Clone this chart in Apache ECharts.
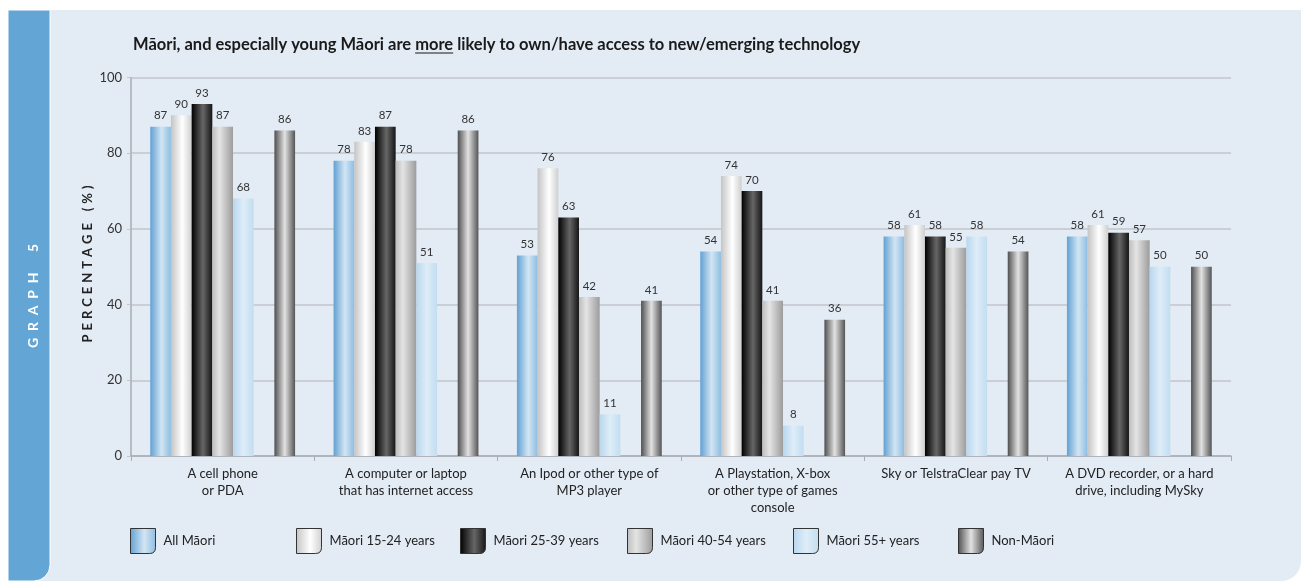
<!DOCTYPE html>
<html>
<head>
<meta charset="utf-8">
<script src="https://cdn.jsdelivr.net/npm/echarts@6/dist/echarts.min.js"></script>
<style>html,body{margin:0;padding:0;background:#fff;}#c{width:1303px;height:581px;}</style>
</head>
<body>
<div id="c"></div>
<script>
const categories = [
  'A cell phone\nor PDA',
  'A computer or laptop\nthat has internet access',
  'An Ipod or other type of\nMP3 player',
  'A Playstation, X-box\nor other type of games\nconsole',
  'Sky or TelstraClear pay TV',
  'A DVD recorder, or a hard\ndrive, including MySky'
];
const seriesNames = ['All Māori','Māori 15-24 years','Māori 25-39 years','Māori 40-54 years','Māori 55+ years','Non-Māori'];
const allMaori   = [87, 78, 53, 54, 58, 58];
const maori1524  = [90, 83, 76, 74, 61, 61];
const maori2539  = [93, 87, 63, 70, 58, 59];
const maori4054  = [87, 78, 42, 41, 55, 57];
const maori55    = [68, 51, 11, 8, 58, 50];
const nonMaori   = [86, 86, 41, 36, 54, 50];
const yTicks = [0, 20, 40, 60, 80, 100];
const titleText = 'Māori, and especially young Māori are more likely to own/have access to new/emerging technology';
const yAxisName = 'PERCENTAGE (%)';
const sideLabel = 'GRAPH 5';

const FONT = 'Lato, "Open Sans", sans-serif';
function grad(stops){
  return new echarts.graphic.LinearGradient(0,0,1,0, stops.map(s=>({offset:s[0],color:s[1]})));
}
const colors = [
  grad([[0,'#62a1d3'],[0.55,'#d2e5f3'],[1,'#8dbde2']]),
  grad([[0,'#c4c4c4'],[0.55,'#ffffff'],[1,'#cfcfcf']]),
  grad([[0,'#000000'],[0.55,'#666666'],[1,'#151515']]),
  grad([[0,'#bdbdbd'],[0.35,'#e4e4e4'],[1,'#9c9c9c']]),
  grad([[0,'#b9d7ee'],[0.5,'#deedf8'],[1,'#c2ddf1']]),
  grad([[0,'#4f4f4f'],[0.5,'#e2e2e2'],[1,'#555555']])
];
const dataArr = [allMaori, maori1524, maori2539, maori4054, maori55, nonMaori];

const series = [];
for (let i = 0; i < 6; i++) {
  if (i === 5) {
    series.push({ name: '_gap', type: 'bar', data: categories.map(()=>'-'), silent: true, barGap: '0%', barCategoryGap: '21%' });
  }
  series.push({
    name: seriesNames[i], type: 'bar', data: dataArr[i],
    barGap: '0%', barCategoryGap: '21%',
    itemStyle: { color: colors[i] },
    label: { show: true, position: 'top', distance: 5, fontSize: 11.5, color: '#333', fontFamily: FONT }
  });
}

const legendX = [130, 296, 460, 627, 793, 958];
const legends = seriesNames.map((n, i) => ({
  left: legendX[i], top: 528, orient: 'horizontal', data: [n], padding: 0,
  itemWidth: 25, itemHeight: 25, itemGap: 8,
  icon: 'path://M0,0 L25,0 L25,19 Q25,25 19,25 L0,25 Z',
  itemStyle: { borderColor: '#333', borderWidth: 1 },
  textStyle: { fontSize: 13, color: '#222', fontFamily: FONT, padding: [0, 0, 0, 3] },
  selectedMode: false
}));

const cv = document.createElement('canvas').getContext('2d');
function spaced(str, font, target){
  cv.font = font;
  const words = str.split(' ');
  let best = null, bestErr = 1e9;
  const seps = [' ', ' \u200A', ' \u2009', '  ', '  \u200A', '  \u2009', '   ', '\u2002', '\u2002\u200A', '\u2002\u2009', '\u2003'];
  for (const s of seps) {
    const t = words.map(w => Array.from(w).join(s)).join(s + s + s);
    const e = Math.abs(cv.measureText(t).width - target);
    if (e < bestErr) { bestErr = e; best = t; }
  }
  return best;
}
const yNameFont = 'bold 13px ' + FONT;
const yNameText = spaced(yAxisName, yNameFont, 158);
const sideFont = 'bold 14px ' + FONT;
const sideText = spaced(sideLabel, sideFont, 103);

const titleFont = 'bold 16.5px ' + FONT;
cv.font = titleFont;
const titleX = 133, titleY = 45;
const pre = 'Māori, and especially young Māori are ';
const moreX0 = titleX + cv.measureText(pre).width;
const moreX1 = moreX0 + cv.measureText('more').width;

const chart = echarts.init(document.getElementById('c'), null, { renderer: 'canvas' });
chart.setOption({
  animation: false,
  backgroundColor: '#ffffff',
  textStyle: { fontFamily: FONT },
  grid: { left: 131, right: 72, top: 77.5, bottom: 125, containLabel: false },
  legend: legends,
  xAxis: {
    type: 'category', data: categories,
    axisLine: { lineStyle: { color: '#a9adb2', width: 1.5 } },
    axisTick: { show: true, length: 5, lineStyle: { color: '#a9adb2' } },
    axisLabel: { fontSize: 13, color: '#222', lineHeight: 17, margin: 9, fontFamily: FONT, interval: 0 }
  },
  yAxis: {
    type: 'value', min: 0, max: 100, interval: 20,
    axisLine: { show: true, lineStyle: { color: '#a9adb2', width: 1.5 } },
    axisTick: { show: true, length: 4, lineStyle: { color: '#c3c6ca' } },
    axisLabel: { fontSize: 13, color: '#333', margin: 9, fontFamily: FONT,
      formatter: v => yTicks.includes(v) ? String(v) : '' },
    splitLine: { lineStyle: { color: '#c3c6ca', width: 1.5 } }
  },
  graphic: [
    { type: 'rect', z: -10, silent: true, shape: { x: 8, y: 10, width: 1293, height: 571, r: [0,0,20,0] }, style: { fill: '#e3ebf5' } },
    { type: 'rect', z: -9, silent: true, shape: { x: 8, y: 10, width: 42, height: 571, r: [0,0,16,0] }, style: { fill: '#63a5d4', stroke: '#ffffff', lineWidth: 1 } },
    { type: 'text', z: 10, silent: true, x: 33, y: 296, rotation: Math.PI/2,
      style: { text: sideText, fill: '#ffffff', font: sideFont, align: 'center', verticalAlign: 'middle' } },
    { type: 'text', z: 10, silent: true, x: 88, y: 264, rotation: Math.PI/2,
      style: { text: yNameText, fill: '#222', font: yNameFont, align: 'center', verticalAlign: 'middle' } },
    { type: 'text', z: 10, silent: true, x: titleX, y: titleY,
      style: { text: titleText, fill: '#1a1a1a', font: titleFont, align: 'left', verticalAlign: 'middle' } },
    { type: 'line', z: 10, silent: true, shape: { x1: moreX0, y1: 53, x2: moreX1, y2: 53 }, style: { stroke: '#1a1a1a', lineWidth: 1.2 } }
  ],
  series: series
});
</script>
</body>
</html>
